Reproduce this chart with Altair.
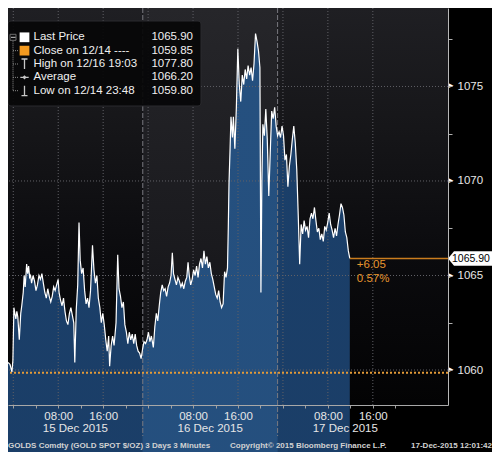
import altair as alt
import pandas as pd

# ---- data ----
# hours since 15 Dec 2015 00:00 (London time) and GOLD spot price ($/oz)
hours = [-0.94, -0.59, -0.24, -0.07, 0.11, 0.28, 0.46, 0.63, 0.81, 1.07, 1.33, 1.51, 1.77, 1.94, 2.12,
         2.38, 2.56, 2.73, 2.91, 3.08, 3.26, 3.52, 3.78, 4.04, 4.30, 4.57, 4.83, 5.09, 5.35, 5.62,
         5.88, 6.14, 6.40, 6.67, 6.93, 7.19, 7.45, 7.71, 7.98, 8.15, 8.41, 8.68, 8.94, 9.20, 9.46,
         9.72, 9.99, 10.25, 10.51, 10.77, 10.95, 11.21, 11.47, 11.70, 11.91, 12.17, 12.43, 12.70, 12.96, 13.22,
         13.48, 13.75, 14.10, 14.36, 14.62, 14.88, 15.14, 15.41, 15.67, 15.93, 16.19, 16.46, 16.72, 16.98, 17.15,
         17.42, 17.68, 17.94, 18.29, 18.59, 18.82, 19.08, 19.34, 19.60, 19.86, 20.13, 20.39, 20.65, 20.91, 21.18,
         21.44, 21.70, 21.96, 22.22, 22.49, 22.75, 23.01, 23.27, 23.54, 23.80, 24.06, 24.32, 24.58, 24.93, 25.20,
         25.46, 25.72, 25.98, 26.24, 26.51, 26.77, 27.03, 27.29, 27.56, 27.82, 28.08, 28.31, 28.52, 28.78, 29.04,
         29.31, 29.57, 29.83, 30.09, 30.35, 30.62, 30.88, 31.11, 31.32, 31.58, 31.84, 32.10, 32.37, 32.63, 32.89,
         33.15, 33.41, 33.68, 33.94, 34.20, 34.46, 34.72, 34.99, 35.25, 35.51, 35.77, 36.03, 36.30, 36.56, 36.82,
         37.08, 37.35, 37.61, 37.87, 38.13, 38.27, 38.40, 38.57, 38.75, 39.01, 39.18, 39.44, 39.71, 39.97, 40.23,
         40.49, 40.76, 41.02, 41.28, 41.54, 41.80, 42.07, 42.33, 42.59, 42.85, 43.12, 43.38, 43.64, 43.90, 44.08,
         44.25, 44.43, 44.69, 44.95, 45.21, 45.48, 45.74, 46.00, 46.26, 46.53, 46.79, 47.05, 47.31, 47.57, 47.84,
         48.10, 48.36, 48.62, 48.88, 49.15, 49.41, 49.67, 49.93, 50.20, 50.46, 50.72, 50.98, 51.24, 51.51, 51.77,
         52.03, 52.29, 52.56, 52.82, 53.08, 53.34, 53.61, 53.87, 54.13, 54.39, 54.65, 54.92, 55.18, 55.44, 55.70,
         55.97, 56.23, 56.49, 56.75, 57.01, 57.28, 57.54, 57.80, 58.06, 58.33, 58.59, 58.85, 59.11, 59.37, 59.64,
         59.90]
price = [1060.4, 1060.3, 1059.9, 1060.5, 1063.3, 1063.0, 1062.7, 1063.1, 1062.8, 1061.6, 1063.0, 1063.4, 1064.1, 1065.0, 1064.4,
         1065.6, 1065.1, 1065.5, 1064.9, 1065.0, 1064.6, 1065.0, 1064.7, 1064.2, 1064.5, 1065.0, 1064.8, 1065.1, 1064.6, 1064.1,
         1063.8, 1064.3, 1063.9, 1063.6, 1063.9, 1064.4, 1064.2, 1064.5, 1064.8, 1064.1, 1063.7, 1063.4, 1063.8, 1063.1, 1062.6,
         1062.4, 1063.0, 1063.3, 1062.9, 1062.5, 1060.4, 1063.2, 1064.5, 1067.8, 1065.8, 1065.1, 1065.4, 1064.2, 1063.5, 1063.8,
         1063.3, 1064.2, 1066.6, 1065.3, 1064.6, 1065.0, 1063.8, 1063.3, 1062.5, 1063.0, 1062.4, 1061.6, 1061.0, 1061.8, 1060.2,
         1061.3, 1061.8, 1061.3, 1062.5, 1066.1, 1064.3, 1063.9, 1063.3, 1063.6, 1062.4, 1062.0, 1061.4, 1062.0, 1061.6, 1061.9,
         1061.4, 1061.9, 1061.3, 1061.0, 1060.9, 1060.6, 1061.1, 1061.5, 1061.4, 1061.6, 1062.0, 1061.5, 1061.8, 1061.2, 1062.3,
         1063.0, 1062.6, 1063.4, 1064.1, 1064.5, 1064.2, 1064.3, 1063.9, 1064.4, 1064.6, 1065.0, 1066.2, 1065.1, 1064.8, 1064.5,
         1064.9, 1064.7, 1064.4, 1064.6, 1064.3, 1064.7, 1064.9, 1065.7, 1065.0, 1064.5, 1064.8, 1065.3, 1065.0, 1065.5, 1064.9,
         1065.6, 1065.9, 1065.4, 1066.3, 1065.6, 1066.0, 1065.4, 1065.7, 1065.1, 1064.8, 1064.4, 1064.0, 1063.8, 1064.2, 1063.6,
         1063.3, 1063.5, 1065.2, 1064.9, 1065.4, 1067.5, 1069.9, 1071.5, 1073.4, 1072.3, 1073.4, 1071.7, 1073.9, 1077.0, 1075.1,
         1074.2, 1075.6, 1075.1, 1075.9, 1075.4, 1076.1, 1075.6, 1076.0, 1075.3, 1076.2, 1077.8, 1077.4, 1076.9, 1076.0, 1064.1,
         1070.0, 1073.0, 1072.4, 1073.8, 1072.2, 1069.2, 1071.5, 1073.7, 1073.3, 1073.9, 1072.9, 1072.4, 1072.6, 1072.3, 1072.9,
         1072.4, 1071.1, 1071.4, 1069.7, 1070.8, 1071.4, 1072.2, 1072.9, 1072.0, 1070.6, 1068.2, 1065.6, 1067.7, 1067.2, 1067.9,
         1067.4, 1067.6, 1067.0, 1068.0, 1068.3, 1068.0, 1068.6, 1067.9, 1067.3, 1067.5, 1066.9, 1067.2, 1066.8, 1067.6, 1067.4,
         1067.8, 1068.3, 1067.7, 1067.4, 1067.0, 1067.5, 1067.1, 1067.7, 1068.2, 1068.8, 1068.6, 1068.2, 1067.3, 1067.0, 1066.3,
         1065.9]

grid_hours = [0, 8, 16, 24, 32, 40, 48, 56, 64]
tick_hours = [0, 4, 8, 12, 16, 20, 24, 28, 32, 36, 40, 44, 48, 52, 56, 60, 64, 68]
session_bounds = [-0.94, 23.05, 47.05, 77.38]
session_names = ["15 Dec 2015", "16 Dec 2015", "17 Dec 2015"]
session_centers = [11.05, 35.05, 59.10]
grid_levels = [1060, 1065, 1070, 1075]
axis_levels = [1060, 1062.5, 1065, 1067.5, 1070, 1072.5, 1075, 1077.5]
close_price = 1059.85
last_price = 1065.90
change_abs = "+6.05"
change_pct = "0.57%"
legend_labels = ["Last Price", "Close on 12/14 ----", "High on 12/16 19:03", "Average", "Low on 12/14 23:48"]
legend_values = ["1065.90", "1059.85", "1077.80", "1066.20", "1059.80"]
footer_left = "GOLDS Comdty (GOLD SPOT $/OZ) 3 Days 3 Minutes"
footer_mid = "Copyright\u00a9 2015 Bloomberg Finance L.P."
footer_right = "17-Dec-2015 12:01:42"

# ---- layout ----
W, H = 440, 397
X0, X1 = session_bounds[0], session_bounds[-1]
Y0, Y1 = 1058.15, 1079.15
FONT = "Liberation Sans"
TXT = "#e6e6e6"

xs = alt.Scale(domain=[X0, X1], nice=False, zero=False)
ys = alt.Scale(domain=[Y0, Y1], nice=False, zero=False)

X_AXIS = alt.Axis(
    values=tick_hours, grid=False, title=None, tickSize=3, tickColor="#a0a0a0",
    domainColor="#a8a8a8", labelColor=TXT, labelFont=FONT, labelFontSize=11.5, labelPadding=2,
    labelOverlap=False, labelFlush=False, zindex=1,
    labelExpr="datum.value % 24 == 8 ? '08:00' : (datum.value % 24 == 16 ? '16:00' : '')")
Y_AXIS = alt.Axis(
    orient="right", values=axis_levels, grid=False, title=None, tickSize=4, tickColor="#b0b0b0",
    domainColor="#b8b8b8", labelColor=TXT, labelFont=FONT, labelFontSize=11.5, labelPadding=5,
    zindex=1, labelExpr="datum.value % 5 == 0 ? format(datum.value, 'd') : ''")


def X(field):
    return alt.X(field, scale=xs, axis=X_AXIS)


def Y(field):
    return alt.Y(field, scale=ys, axis=Y_AXIS)


df = pd.DataFrame({"h": hours, "p": price})
sess = pd.DataFrame({"x": session_bounds[:-1], "x2": session_bounds[1:], "s": [0, 1, 2],
                     "name": session_names, "c": session_centers})


def grad(stops):
    return alt.Gradient(gradient="linear", x1=0, x2=0, y1=0, y2=1,
                        stops=[alt.GradientStop(color=c, offset=o) for o, c in stops])


bg_a = alt.Chart(sess).transform_filter("datum.s != 1").mark_rect(
    color=grad([(0, "#1f1f23"), (0.3, "#161619"), (0.62, "#0b0b0e"), (1, "#030304")])
).encode(x=X("x:Q"), x2="x2", y=alt.value(0), y2=alt.value(H))
bg_b = alt.Chart(sess).transform_filter("datum.s == 1").mark_rect(
    color=grad([(0, "#26262a"), (0.6, "#1a1a1e"), (1, "#0f0f12")])
).encode(x=X("x:Q"), x2="x2", y=alt.value(0), y2=alt.value(H))

area_a = alt.Chart(df).mark_area(
    color=grad([(0, "#1b3f69"), (1, "#08162b")])
).encode(x=X("h:Q"), y=Y("p:Q"))
area_b = alt.Chart(df).transform_filter("datum.h >= 23.0 && datum.h <= 47.06").mark_area(
    color=grad([(0, "#25507f"), (1, "#14294b")])
).encode(x=X("h:Q"), y=Y("p:Q"))

vgrid = alt.Chart(pd.DataFrame({"h": grid_hours})).mark_rule(
    color="#606066", strokeDash=[1, 2], strokeWidth=1
).encode(x=X("h:Q"))
hgrid = alt.Chart(pd.DataFrame({"p": grid_levels})).mark_rule(
    color="#606066", strokeDash=[1, 2], strokeWidth=1
).encode(y=Y("p:Q"))
seps = alt.Chart(pd.DataFrame({"h": session_bounds[1:-1]})).mark_rule(
    color="#7a7a80", strokeDash=[5, 2], strokeWidth=1
).encode(x=X("h:Q"), y=alt.value(0), y2=alt.value(H + 31))

close_rule = alt.Chart(pd.DataFrame({"p": [close_price]})).mark_rule(
    color="#e39b38", strokeDash=[2, 2], strokeWidth=2
).encode(y=Y("p:Q"))

line = alt.Chart(df).mark_line(color="#ffffff", strokeWidth=1.2).encode(x=X("h:Q"), y=Y("p:Q"))

last_df = pd.DataFrame({"h": [hours[-1]], "x2": [X1], "p": [last_price], "edge": [X1],
                        "lbl": ["%.2f" % last_price], "chg": [change_abs], "pct": [change_pct]})
last_rule = alt.Chart(last_df).mark_rule(color="#c97c1e", strokeWidth=1.5).encode(
    x=X("h:Q"), x2="x2", y=Y("p:Q"))
chg_txt = alt.Chart(last_df).mark_text(color="#e8962e", font=FONT, fontSize=11.5, align="left",
                                       baseline="middle", dx=7, dy=7).encode(
    x=X("h:Q"), y=Y("p:Q"), text="chg:N")
pct_txt = alt.Chart(last_df).mark_text(color="#e8962e", font=FONT, fontSize=11.5, align="left",
                                       baseline="middle", dx=7, dy=21).encode(
    x=X("h:Q"), y=Y("p:Q"), text="pct:N")

tri = alt.Chart(pd.DataFrame({"p": grid_levels, "edge": [X1] * len(grid_levels)})).mark_text(
    text="\u25ba", color="#ffffff", fontSize=8, align="left", baseline="middle", dx=-1
).encode(x=X("edge:Q"), y=Y("p:Q"))

tag = alt.Chart(last_df).mark_point(
    shape="M0,0L0.24,-0.29L2.4,-0.29L2.4,0.29L0.24,0.29Z", size=2500, filled=True,
    color="#ffffff", opacity=1
).encode(x=X("edge:Q"), y=Y("p:Q"))
tag_txt = alt.Chart(last_df).mark_text(color="#000000", font=FONT, fontSize=10.5, align="left",
                                       baseline="middle", dx=4, dy=0.5).encode(
    x=X("edge:Q"), y=Y("p:Q"), text="lbl:N")

dates = alt.Chart(sess).mark_text(color=TXT, font=FONT, fontSize=11.5, baseline="middle").encode(
    x=X("c:Q"), y=alt.value(H + 24), text="name:N")

foot_df = pd.DataFrame({"a": [footer_left], "b": [footer_mid], "c": [footer_right]})
foot_style = dict(color="#d2d2d2", font=FONT, fontSize=8, fontWeight="bold", baseline="middle")
foot1 = alt.Chart(foot_df).mark_text(align="left", **foot_style).encode(
    x=alt.value(0), y=alt.value(H + 41), text="a:N")
foot2 = alt.Chart(foot_df).mark_text(align="left", **foot_style).encode(
    x=alt.value(222), y=alt.value(H + 41), text="b:N")
foot3 = alt.Chart(foot_df).mark_text(align="right", **foot_style).encode(
    x=alt.value(484), y=alt.value(H + 41), text="c:N")

# ---- legend box ----
one = pd.DataFrame({"k": [0]})
ROW0, STEP = 29.3, 13.35
legend_layers = [
    alt.Chart(one).mark_rect(color="#070708", opacity=0.93, cornerRadius=3, stroke="#2c2c30",
                             strokeWidth=1).encode(
        x=alt.value(0), x2=alt.value(193), y=alt.value(13), y2=alt.value(98)),
    alt.Chart(one).mark_rule(color="#8a8a8a", strokeDash=[1, 1]).encode(
        x=alt.value(5), y=alt.value(ROW0 + 4), y2=alt.value(ROW0 + 4 * STEP)),
    alt.Chart(one).mark_square(size=36, filled=False, color="#9a9a9a", strokeWidth=1).encode(
        x=alt.value(5), y=alt.value(ROW0)),
    alt.Chart(one).mark_rule(color="#cfcfcf").encode(
        x=alt.value(3), x2=alt.value(7.5), y=alt.value(ROW0)),
]
for i in range(1, 5):
    legend_layers.append(alt.Chart(one).mark_rule(color="#8a8a8a", strokeDash=[1, 1]).encode(
        x=alt.value(5), x2=alt.value(10), y=alt.value(ROW0 + i * STEP)))
icon_shapes = [
    ("square", "#ffffff", True, 95),
    ("square", "#f39a1f", True, 95),
    ("M-0.6,-1L0.6,-1M0,-1L0,1", "#c8c8c8", False, 100),
    ("M-1,0L1,0M0,-0.3L0.3,0L0,0.3L-0.3,0Z", "#c8c8c8", False, 70),
    ("M0,-1L0,1M-0.6,1L0.6,1", "#c8c8c8", False, 100),
]
for i, (shape, col, filled, size) in enumerate(icon_shapes):
    legend_layers.append(alt.Chart(one).mark_point(
        shape=shape, color=col, filled=filled, size=size, strokeWidth=1.3, opacity=1).encode(
        x=alt.value(16.5), y=alt.value(ROW0 + i * STEP)))
    legend_layers.append(alt.Chart(pd.DataFrame({"t": [legend_labels[i]]})).mark_text(
        color="#f0f0f0", font=FONT, fontSize=11.5, align="left", baseline="middle").encode(
        x=alt.value(25.5), y=alt.value(ROW0 + i * STEP), text="t:N"))
    legend_layers.append(alt.Chart(pd.DataFrame({"t": [legend_values[i]]})).mark_text(
        color="#f0f0f0", font=FONT, fontSize=11.5, align="right", baseline="middle").encode(
        x=alt.value(185), y=alt.value(ROW0 + i * STEP), text="t:N"))

chart = alt.layer(
    bg_a, bg_b, area_a, area_b, vgrid, hgrid, seps, close_rule, line, last_rule,
    chg_txt, pct_txt, tri, tag, tag_txt, dates, foot1, foot2, foot3, *legend_layers
).properties(
    width=W, height=H,
    padding={"left": 0, "top": 0, "right": 44, "bottom": 47},
    autosize=alt.AutoSizeParams(type="none"),
).configure(background="#000000").configure_view(stroke=None)

chart.save("out.html", embed_options={"renderer": "svg", "actions": False})
